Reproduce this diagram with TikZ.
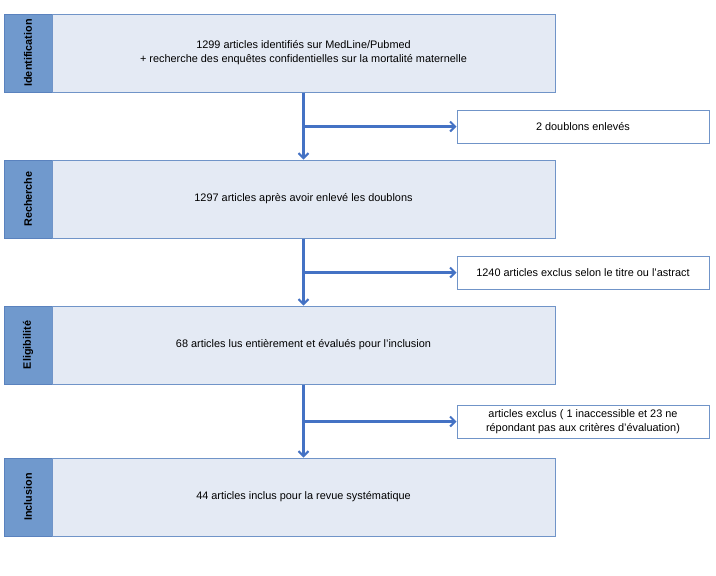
\documentclass[tikz,border=0pt]{standalone}
\usepackage{fontspec}
\setmainfont{Liberation Sans}
\usetikzlibrary{arrows.meta}
\definecolor{tabblue}{HTML}{7099CD}
\definecolor{tabline}{HTML}{5A82BE}
\definecolor{boxfill}{HTML}{E4EAF4}
\definecolor{boxline}{HTML}{7094C8}
\definecolor{arrowblue}{HTML}{4472C4}
\tikzset{
  phase/.style={draw=tabline, fill=tabblue, line width=1pt, rotate=90,
    minimum width=78pt, minimum height=48pt, inner sep=0pt,
    font=\fontsize{10.8}{13}\selectfont\bfseries},
  stage/.style={draw=boxline, fill=boxfill, line width=1pt,
    minimum width=503pt, minimum height=78pt, inner sep=0pt, align=center,
    font=\fontsize{10.9}{14}\selectfont},
  removed/.style={draw=boxline, fill=white, line width=1pt,
    minimum width=252pt, minimum height=33pt, inner sep=0pt, align=center,
    font=\fontsize{10.9}{14}\selectfont},
  flow/.style={draw=arrowblue, line width=2.2pt,
    -{Straight Barb[length=5pt, width=10pt, line width=2pt]}}
}
\begin{document}
\begin{tikzpicture}[x=1pt, y=-1pt]
        \useasboundingbox (0, 0) rectangle (716, 576);
        % phases on the left
        \node[phase] (ID) at (28, 53) {Identification};
        \node[phase] (RE) at (28, 199) {Recherche};
        \node[phase] (EL) at (28, 345) {Eligibilité};
        \node[phase] (IN) at (28, 497) {Inclusion};

        % main boxes
        \node[stage] (IDbox) at (303.5, 53) {1299 articles identifiés sur MedLine/Pubmed \\ + recherche des enquêtes confidentielles sur la mortalité maternelle};
        \node[stage] (REbox) at (303.5, 199) {1297 articles après avoir enlevé les doublons};
        \node[stage] (ELbox) at (303.5, 345) {68 articles lus entièrement et évalués pour l'inclusion};
        \node[stage] (INbox) at (303.5, 497) {44 articles inclus pour la revue systématique};

        % excluded articles
        \node[removed] (DB) at (583, 126.5) {2 doublons enlevés};
        \node[removed] (EX1) at (583, 272.5) {1240 articles exclus selon le titre ou l'astract};
        \node[removed] (EX2) at (583, 421.5) {articles exclus ( 1 inaccessible et 23 ne \\ répondant pas aux critères d'évaluation)};

        \draw[flow] (IDbox.south) -- (REbox.north);
        \draw[flow] (IDbox.south |- DB.west) -- (DB.west);
        \draw[flow] (REbox.south) -- (ELbox.north);
        \draw[flow] (REbox.south |- EX1.west) -- (EX1.west);
        \draw[flow] (ELbox.south) -- (INbox.north);
        \draw[flow] (ELbox.south |- EX2.west) -- (EX2.west);
    \end{tikzpicture}
\end{document}
